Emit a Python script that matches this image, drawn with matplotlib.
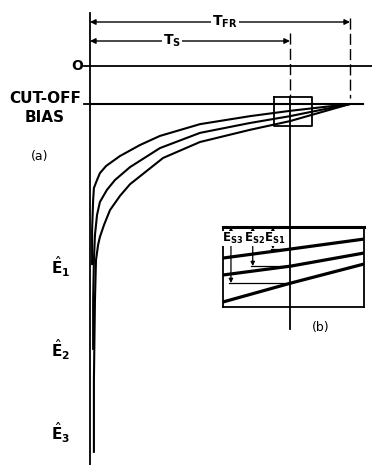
import matplotlib.pyplot as plt
import numpy as np

# tiempo normalizado a T_FR = 1, tension normalizada a corte = -1
t_s = 0.769
t_fr = 1.0
v_cutoff = -1.0
e_levels = [-5.29, -7.47, -9.66]
e_labels = [r"$\hat{\mathbf{E}}_{\mathbf{1}}$", r"$\hat{\mathbf{E}}_{\mathbf{2}}$", r"$\hat{\mathbf{E}}_{\mathbf{3}}$"]

# curvas de descarga
t1 = [0.008, 0.008, 0.012, 0.015, 0.027, 0.038, 0.062, 0.115, 0.192, 0.269, 0.423, 0.615, 0.769, 1.0]
v1 = [-5.24, -4.32, -3.53, -3.21, -3.00, -2.82, -2.63, -2.37, -2.08, -1.84, -1.53, -1.32, -1.18, -1.0]
t2 = [0.012, 0.012, 0.015, 0.019, 0.027, 0.038, 0.065, 0.096, 0.154, 0.269, 0.423, 0.615, 0.769, 1.0]
v2 = [-7.47, -6.16, -5.11, -4.45, -3.92, -3.58, -3.26, -3.00, -2.66, -2.16, -1.76, -1.50, -1.32, -1.0]
t3 = [0.015, 0.015, 0.019, 0.023, 0.031, 0.038, 0.054, 0.077, 0.115, 0.154, 0.281, 0.423, 0.615, 0.769, 1.0]
v3 = [-10.18, -8.26, -6.16, -5.11, -4.71, -4.50, -4.18, -3.79, -3.42, -3.11, -2.42, -2.00, -1.68, -1.45, -1.0]

# detalle (b): tramos ampliados alrededor de T_S
ti = [0.698, 0.769, 0.845]
vi1 = [-1.229, -1.162, -1.089]
vi2 = [-1.354, -1.288, -1.192]
vi3 = [-1.553, -1.413, -1.273]
es_x = [0.7063, 0.729, 0.750]
es_labels = [r"$\mathbf{E_{S3}}$", r"$\mathbf{E_{S2}}$", r"$\mathbf{E_{S1}}$"]

fig = plt.figure(figsize=(3.72, 4.65), dpi=100)
ax = fig.add_axes([0, 0, 1, 1])
ax.set_xlim(-0.3462, 1.0846)
ax.set_ylim(-10.5, 1.737)
ax.axis("off")

# ejes y referencias
ax.plot([0, 0], [1.395, -10.5], color="k", lw=1.3)
ax.plot([0, 1.0846], [0, 0], color="k", lw=1.3)
ax.plot([0, 1.05], [v_cutoff, v_cutoff], color="k", lw=1.5)
ax.plot([-0.023, 0], [0, 0], color="k", lw=1.3)
ax.plot([-0.023, 0], [v_cutoff, v_cutoff], color="k", lw=1.3)

# T_FR y T_S
ax.plot([t_fr, t_fr], [1.263, -0.842], color="k", lw=1, dashes=(8, 3))
ax.plot([t_s, t_s], [0.868, -0.816], color="k", lw=1, dashes=(8, 3))
ax.plot([t_s, t_s], [-0.816, -6.92], color="k", lw=1.3)
for tt, yy in [(t_fr, 1.158), (t_s, 0.658)]:
    ax.annotate("", xy=(tt, yy), xytext=(0, yy),
                arrowprops=dict(arrowstyle="<|-|>", lw=1, color="k",
                                shrinkA=0, shrinkB=0, mutation_scale=8))
bb = dict(facecolor="white", edgecolor="none", pad=1)
ax.text(0.519, 1.158, r"T$_{\mathbf{FR}}$", ha="center", va="center", fontsize=10,
        fontweight="bold", bbox=bb)
ax.text(0.315, 0.658, r"T$_{\mathbf{S}}$", ha="center", va="center", fontsize=10,
        fontweight="bold", bbox=bb)

# caja pequena
bx = [0.708, 0.854, 0.854, 0.708, 0.708]
by = [-0.816, -0.816, -1.579, -1.579, -0.816]
ax.plot(bx, by, color="k", lw=1.3)

# curvas
for tt, vv in [(t1, v1), (t2, v2), (t3, v3)]:
    ax.plot(tt, vv, color="k", lw=1.5, solid_capstyle="butt", solid_joinstyle="round")

# textos
ax.text(-0.05, 0, "O", ha="center", va="center", fontsize=10, fontweight="bold")
ax.text(-0.173, -0.842, "CUT-OFF", ha="center", va="center", fontsize=11, fontweight="bold")
ax.text(-0.173, -1.342, "BIAS", ha="center", va="center", fontsize=11, fontweight="bold")
ax.text(-0.192, -2.39, "(a)", ha="center", va="center", fontsize=9)
for lv, lab in zip(e_levels, e_labels):
    ax.text(-0.115, lv, lab, ha="center", va="center", fontsize=11)
ax.text(0.888, -6.89, "(b)", ha="center", va="center", fontsize=9)

# detalle ampliado
axi = fig.add_axes([223 / 372, 1 - 307 / 465, 141 / 372, 80 / 465])
axi.set_facecolor("none")
axi.set_xlim(ti[0], ti[-1])
axi.set_ylim(-1.59, -1.0)
axi.set_xticks([])
axi.set_yticks([])
for s in axi.spines.values():
    s.set_linewidth(1.3)
axi.spines["top"].set_linewidth(2.2)
for vv in [vi1, vi2, vi3]:
    axi.plot(ti, vv, color="k", lw=2.3)
vts = [vi3[1], vi2[1], vi1[1]]
for xx, vt, lab in zip(es_x, vts, es_labels):
    axi.plot([xx - 0.002, t_s], [vt, vt], color="k", lw=0.9)
    axi.annotate("", xy=(xx, -1.0), xytext=(xx, vt),
                 arrowprops=dict(arrowstyle="<|-|>", lw=0.9, color="k",
                                 shrinkA=0, shrinkB=0, mutation_scale=6))
    axi.text(xx + 0.002, -1.085, lab, ha="center", va="center", fontsize=8.5,
             bbox=dict(facecolor="white", edgecolor="none", pad=0.2))

fig.savefig("out.png", dpi=100)
